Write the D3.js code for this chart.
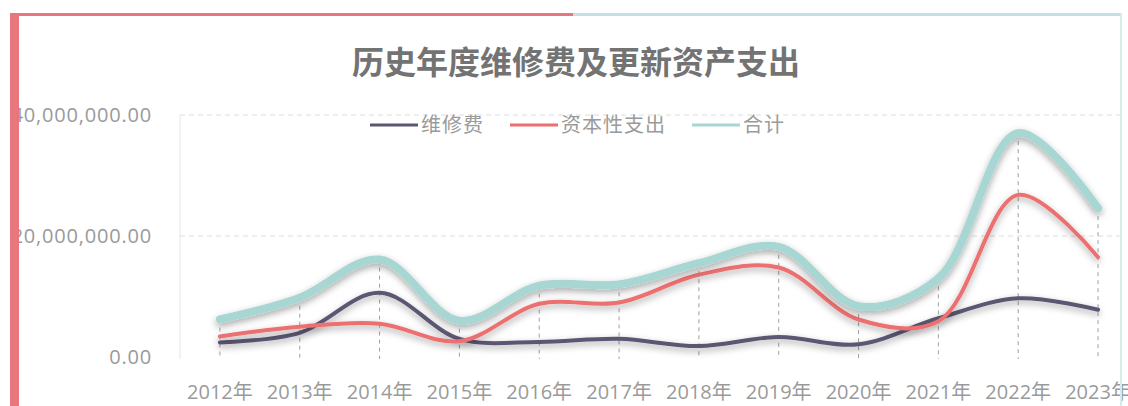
<!DOCTYPE html>
<html>
<head>
<meta charset="utf-8">
<script src="https://cdn.jsdelivr.net/npm/d3@7/dist/d3.min.js"></script>
<style>
html,body{margin:0;padding:0;background:#fff;overflow:hidden;}
svg{display:block;font-family:"Noto Sans CJK SC","Noto Sans",sans-serif;}
</style>
</head>
<body>
<svg id="chart" width="1128" height="406"></svg>
<script>
const title = "历史年度维修费及更新资产支出";
const categories = ["2012年","2013年","2014年","2015年","2016年","2017年","2018年","2019年","2020年","2021年","2022年","2023年"];
const seriesNames = ["维修费","资本性支出","合计"];
const maintenance = [2.4e6, 4.0e6, 10.6e6, 3.0e6, 2.5e6, 3.0e6, 1.8e6, 3.3e6, 2.1e6, 6.4e6, 9.7e6, 7.8e6];
const capital = [3.4e6, 5.0e6, 5.5e6, 2.6e6, 8.8e6, 9.0e6, 13.6e6, 14.8e6, 6.2e6, 5.9e6, 26.8e6, 16.5e6];
const total = [6.2e6, 9.8e6, 16.1e6, 6.0e6, 11.8e6, 12.0e6, 15.5e6, 18.2e6, 8.4e6, 13.0e6, 37.0e6, 24.6e6];
const yTicks = [0, 20000000, 40000000];
const colors = ["#5c5672", "#ec6f70", "#a8d6d2"];
const widths = [4, 4, 8];

const svg = d3.select("#chart");
const W = 1128, H = 406;

const defs = svg.append("defs");
const f = defs.append("filter").attr("id","shadow").attr("x","-10%").attr("y","-50%").attr("width","120%").attr("height","200%");
f.append("feDropShadow").attr("dx",0).attr("dy",3).attr("stdDeviation",3.5).attr("flood-color","#000").attr("flood-opacity",0.35);

// title
svg.append("text").attr("x",576).attr("y",74).attr("text-anchor","middle")
  .attr("font-size",32).attr("font-weight","bold").attr("fill","#737373").text(title);

const x = d3.scaleBand().domain(categories).range([180, 180 + 12*79.83]);
const cx = d => x(d) + x.bandwidth()/2;
const y = d3.scaleLinear().domain([0, 40000000]).range([357, 115]);

// axis line
svg.append("line").attr("x1",180).attr("x2",180).attr("y1",115).attr("y2",359).attr("stroke","#e6e6e6").attr("stroke-width",1);

// y axis + grid
const yAxis = d3.axisLeft(y).tickValues(yTicks).tickFormat(d3.format(",.2f")).tickSize(0).tickPadding(28);
const ga = svg.append("g").attr("transform","translate(180,0)").call(yAxis);
ga.select(".domain").remove();
ga.selectAll("text").attr("font-size",20).attr("letter-spacing",0.8).attr("fill","#9a9a9a").attr("font-family","'Open Sans','Noto Sans',sans-serif");
svg.append("g").selectAll("line").data(yTicks.filter(d=>d>0)).join("line")
  .attr("x1",180).attr("x2",1122).attr("y1",d=>y(d)).attr("y2",d=>y(d))
  .attr("stroke","#dcdcdc").attr("stroke-dasharray","5,4").attr("stroke-width",1);

// x axis labels
const xAxis = d3.axisBottom(x).tickSize(0).tickPadding(0);
const gx = svg.append("g").attr("transform","translate(0,385)").call(xAxis);
gx.select(".domain").remove();
gx.selectAll("text").attr("font-size",20).attr("fill","#9a9a9a").attr("dy","0.71em").attr("font-family","'Open Sans','Noto Sans CJK SC',sans-serif");

// drop lines
const tops = categories.map((c,i)=>Math.max(maintenance[i],capital[i],total[i]));
svg.append("g").selectAll("line").data(categories).join("line")
  .attr("x1",d=>cx(d)).attr("x2",d=>cx(d)).attr("y1",(d,i)=>y(tops[i])).attr("y2",359)
  .attr("stroke","#a0a0a0").attr("stroke-dasharray","4,4").attr("stroke-width",1);

// lines
const data = [maintenance, capital, total];
const line = d3.line().x((d,i)=>cx(categories[i])).y(d=>y(d)).curve(d3.curveCatmullRom.alpha(0.5));
data.forEach((s,k)=>{
  svg.append("path").datum(s).attr("d",line).attr("fill","none")
    .attr("stroke",colors[k]).attr("stroke-width",widths[k]).attr("stroke-linecap","round")
    .attr("filter","url(#shadow)");
});

// legend
const legX = [370, 510, 692];
const lg = svg.append("g");
seriesNames.forEach((n,k)=>{
  lg.append("line").attr("x1",legX[k]).attr("x2",legX[k]+48).attr("y1",125).attr("y2",125)
    .attr("stroke",colors[k]).attr("stroke-width",3);
  lg.append("text").attr("x",legX[k]+51).attr("y",132).attr("font-size",20).attr("letter-spacing",1)
    .attr("fill","#9a9a9a").text(n);
});

// card borders (drawn last, on top)
svg.append("rect").attr("x",10).attr("y",13).attr("width",563).attr("height",3).attr("fill","#e8767c");
svg.append("rect").attr("x",573).attr("y",13).attr("width",549).attr("height",3).attr("fill","#c2e2e1");
svg.append("rect").attr("x",1120).attr("y",13).attr("width",2).attr("height",H-13).attr("fill","#d5ecea");
svg.append("rect").attr("x",10).attr("y",13).attr("width",9).attr("height",H-13).attr("fill","#e8767c");
</script>
</body>
</html>
